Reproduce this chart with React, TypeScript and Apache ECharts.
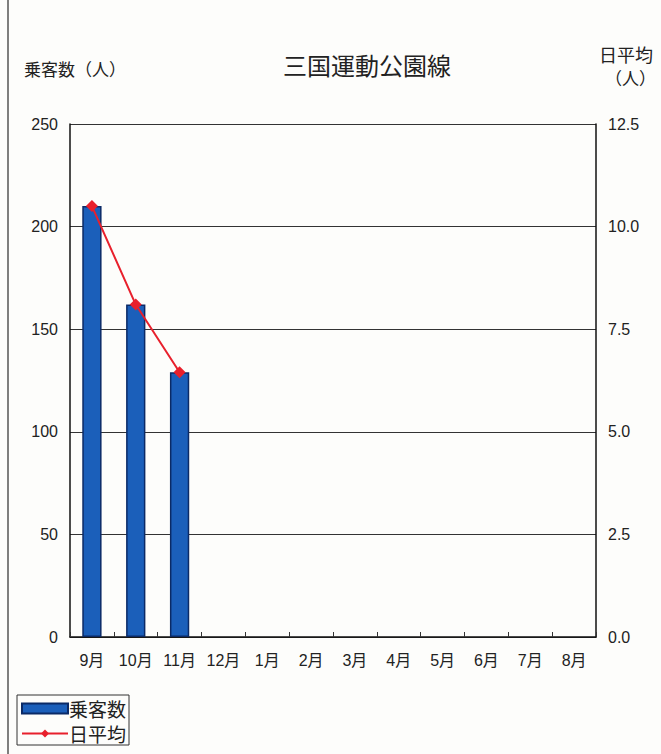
import React, { useEffect, useRef } from "react";
import * as echarts from "echarts";

const months = ["9月", "10月", "11月", "12月", "1月", "2月", "3月", "4月", "5月", "6月", "7月", "8月"];
const passengers = [210, 162, 129, null, null, null, null, null, null, null, null, null];
const dailyAvg = [10.5, 8.1, 6.45, null, null, null, null, null, null, null, null, null];

const JP = '"Noto Sans CJK JP", sans-serif';
const NUM = '"Liberation Sans Narrow", "Liberation Sans", "Noto Sans CJK JP", sans-serif';

export default function App() {
  const ref = useRef<HTMLDivElement>(null);
  useEffect(() => {
    const chart = echarts.init(ref.current!, null, { renderer: "svg" });
    chart.setOption({
      animation: false,
      backgroundColor: "#fdfdfb",
      title: {
        text: "三国運動公園線",
        left: 362,
        top: 47,
        textAlign: "center",
        textStyle: { fontFamily: JP, fontSize: 24, fontWeight: "normal", color: "#222" },
      },
      graphic: [
        { type: "line", shape: { x1: 8, y1: 0, x2: 8, y2: 754 }, style: { stroke: "#555", lineWidth: 1.5 } },
        { type: "text", left: 24, top: 60, style: { text: "乗客数（人）", font: `17px ${JP}`, fill: "#222" } },
        { type: "text", left: 599, top: 45, style: { text: "日平均", font: `18px ${JP}`, fill: "#222" } },
        { type: "text", left: 605, top: 69, style: { text: "（人）", font: `17px ${JP}`, fill: "#222" } },
      ],
      legend: {
        orient: "vertical",
        left: 17,
        top: 695,
        itemWidth: 46,
        itemHeight: 10,
        itemGap: 6,
        padding: [4, 3, 2, 4],
        borderColor: "#333",
        borderWidth: 1,
        textStyle: { fontFamily: JP, fontSize: 19, color: "#222", padding: [0, 0, 0, -4] },
        data: [{ name: "乗客数", icon: "rect" }, { name: "日平均" }],
      },
      grid: { left: 70, right: 65, top: 124, bottom: 117 },
      xAxis: {
        type: "category",
        data: months,
        axisLine: { lineStyle: { color: "#111", width: 1.5 } },
        axisTick: { show: true, inside: true, interval: 0, length: 5, lineStyle: { color: "#333" } },
        axisLabel: { interval: 0, fontFamily: NUM, fontSize: 16, color: "#222", margin: 15 },
      },
      yAxis: [
        {
          type: "value",
          min: 0,
          max: 250,
          interval: 50,
          axisLine: { show: true, lineStyle: { color: "#111", width: 1.5 } },
          axisTick: { show: false },
          axisLabel: { fontFamily: NUM, fontSize: 16, color: "#222", margin: 12 },
          splitLine: { show: true, lineStyle: { color: "#333", width: 1 } },
        },
        {
          type: "value",
          min: 0,
          max: 12.5,
          interval: 2.5,
          axisLine: { show: true, lineStyle: { color: "#111", width: 1.5 } },
          axisTick: { show: false },
          axisLabel: {
            fontFamily: NUM,
            fontSize: 16,
            color: "#222",
            margin: 12,
            formatter: (v: number) => v.toFixed(1),
          },
          splitLine: { show: false },
        },
      ],
      series: [
        {
          name: "乗客数",
          type: "bar",
          data: passengers,
          barWidth: "44%",
          itemStyle: { color: "#1b5fba", borderColor: "#0b2a66", borderWidth: 1.5 },
        },
        {
          name: "日平均",
          type: "line",
          yAxisIndex: 1,
          data: dailyAvg,
          symbol: "diamond",
          symbolSize: 12,
          lineStyle: { color: "#e8202c", width: 2 },
          itemStyle: { color: "#e8202c" },
        },
      ],
    });
    return () => chart.dispose();
  }, []);
  return (
    <div
      ref={ref}
      style={{ position: "absolute", left: 0, top: 0, width: 661, height: 754 }}
    />
  );
}
